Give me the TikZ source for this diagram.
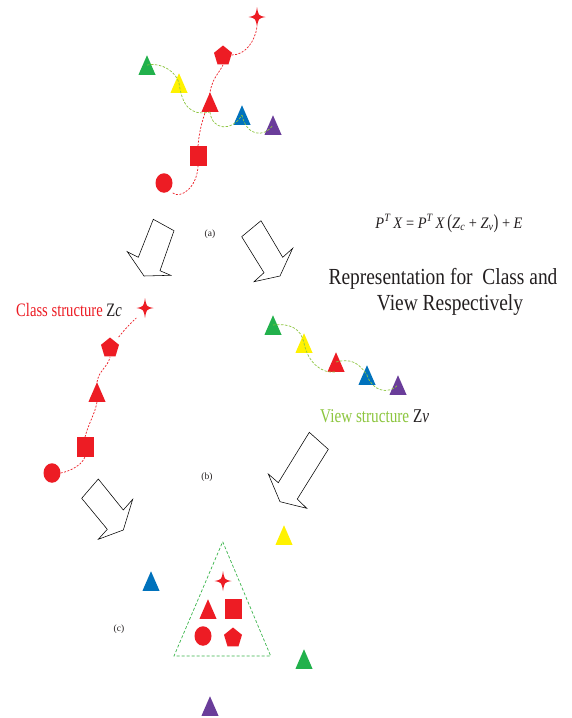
\documentclass[tikz,border=0pt]{standalone}
\usepackage{fontspec}
\setmainfont{Liberation Serif}
\usetikzlibrary{calc}

\definecolor{mkred}{HTML}{ED1C24}
\definecolor{mkgreen}{HTML}{22B14C}
\definecolor{mkyellow}{HTML}{FFF200}
\definecolor{mkblue}{HTML}{0072BC}
\definecolor{mkpurple}{HTML}{6A3D9A}
\definecolor{viewline}{HTML}{8DC63F}
\definecolor{groupline}{HTML}{39B54A}
\definecolor{ink}{HTML}{231F20}

\tikzset{
  mbox/.style={inner sep=0pt, minimum width=17pt, minimum height=19.5pt},
  tri/.pic={\path[pic actions] (-8.5,9.75) -- (8.5,9.75) -- (0,-9.75) -- cycle;},
  sq/.pic={\path[pic actions] (-8.5,-9.75) rectangle (8.5,9.75);},
  blob/.pic={\path[pic actions] (0,0) ellipse [x radius=8.5, y radius=9.75];},
  pent/.pic={\path[pic actions] (0,-9.5) -- (9,-2.2) -- (5.5,9.3) -- (-5.5,9.3) -- (-9,-2.2) -- cycle;},
  spark/.pic={\path[pic actions] (0,-10) .. controls (1.4,-1.4) .. (8.5,0)
      .. controls (1.4,1.4) .. (0,10) .. controls (-1.4,1.4) .. (-8.5,0)
      .. controls (-1.4,-1.4) .. (0,-10) -- cycle;},
  classlink/.style={draw=mkred, line width=0.7pt, dash pattern=on 2pt off 1.5pt},
  viewlink/.style={draw=viewline, line width=0.7pt, dash pattern=on 2.5pt off 1.5pt},
  hollow/.style={draw=black, line width=0.55pt, fill=white, line join=miter},
  caption/.style={font=\fontsize{9.5}{10}\selectfont, text=ink, inner sep=0pt},
}

% a named marker: name, pic type, colour, position
\newcommand\placemk[4]{\node[mbox] (#1) at (#4) {}; \pic[fill=#3] at (#1) {#2};}

\begin{document}
\begin{tikzpicture}[x=1pt, y=-1pt]
\useasboundingbox[fill=white] (0,0) rectangle (572,718);

% ---------------- (a) joint structure ----------------
\placemk{s1}{spark}{mkred}{257,17}
\placemk{p1}{pent}{mkred}{223,55}
\placemk{g1}{tri}{mkgreen}{147,65}
\placemk{y1}{tri}{mkyellow}{179,83}
\placemk{r1}{tri}{mkred}{210,102}
\placemk{b1}{tri}{mkblue}{242,115}
\placemk{v1}{tri}{mkpurple}{273,125}
\placemk{q1}{sq}{mkred}{198,156}
\placemk{c1}{blob}{mkred}{164,183}

\draw[classlink] (c1.south east) .. controls +(8,6) and +(-1,22) .. (q1.south);
\draw[classlink] (q1.north) .. controls +(2,-25) and +(-3,20) .. (r1.north)
                 .. controls +(3,-15) and +(-5,10) .. (p1.south);
\draw[classlink] (p1.east) .. controls +(14,0) and +(-2,14) .. (s1.south);

\draw[viewlink] (g1.center) .. controls +(15,-3) and +(-3,-11) .. (y1.center);
\draw[viewlink] (y1.center) .. controls +(3,22) and +(-20,4.5) .. (r1.south);
\draw[viewlink] (r1.south) .. controls +(2,18.5) and +(-10,17) .. (b1.center);
\draw[viewlink] (b1.center) .. controls +(4,20) and +(-10,14) .. (v1.center);

\node[caption, anchor=base] (capa) at (210,236) {(a)};

% split arrows
\draw[hollow] (153.3,219.3) -- (174,230.7) -- (160,270.7) -- (170.7,275.3)
  -- (144,276) -- (127.3,251.7) -- (138.3,257.3) -- cycle;
\draw[hollow] (241.7,236.7) -- (261,220.7) -- (282.7,257.3) -- (292.7,248.3)
  -- (280,276) -- (254,281.7) -- (264,272.7) -- cycle;

% formula and heading
\node[anchor=base, inner sep=0pt, text=ink] (eq) at (449,228)
  {\fontsize{16}{18}\selectfont\scalebox{0.9}[1]{\textit{P}\textsuperscript{\textit{T}}\,\textit{X} = \textit{P}\textsuperscript{\textit{T}}\,\textit{X}\,\scalebox{1}[1.25]{(}\textit{Z}\textsubscript{\textit{c}} + \textit{Z}\textsubscript{\textit{v}}\scalebox{1}[1.25]{)} + \textit{E}}};
\node[anchor=base, inner sep=0pt, text=ink] (head1) at (443,284)
  {\fontsize{23}{25}\selectfont\scalebox{0.845}[1]{Representation for\ \ Class and}};
\node[anchor=base, inner sep=0pt, text=ink] (head2) at (450,310)
  {\fontsize{23}{25}\selectfont\scalebox{0.845}[1]{View Respectively}};

% ---------------- (b) class structure ----------------
\placemk{s2}{spark}{mkred}{145,308}
\placemk{p2}{pent}{mkred}{110,347}
\placemk{r2}{tri}{mkred}{97,392}
\placemk{q2}{sq}{mkred}{85,447}
\placemk{c2}{blob}{mkred}{52,473}

\draw[classlink] (c2.east) .. controls +(10,-2) and +(-3,8) .. (q2.south);
\draw[classlink] (q2.north) .. controls +(4,-15) and +(-2,12) .. (r2.south);
\draw[classlink] (r2.north) .. controls +(2,-12) and +(-2,10) .. (p2.south);
\draw[classlink] (p2.north east) .. controls +(8,-10) and +(-8,8) .. (s2.south west);

\node[anchor=base west, inner sep=0pt] (zc) at (16,316.5)
  {\fontsize{19}{21}\selectfont\scalebox{0.77}[1]{\textcolor{mkred}{Class structure} \textcolor{ink}{Z\textit{c}}}};

% ---------------- (b) view structure ----------------
\placemk{g2}{tri}{mkgreen}{273,325}
\placemk{y2}{tri}{mkyellow}{304,343}
\placemk{r3}{tri}{mkred}{336,362}
\placemk{b2}{tri}{mkblue}{367,375}
\placemk{v2}{tri}{mkpurple}{398,385}

\draw[viewlink] (g2.center) .. controls +(18,-2) and +(-3,-14) .. (y2.center);
\draw[viewlink] (y2.center) .. controls +(4,20) and +(-14,2) .. (r3.south);
\draw[viewlink] (r3.center) .. controls +(15,-4) and +(-8,-12) .. (b2.center);
\draw[viewlink] (b2.center) .. controls +(5,16) and +(-10,10) .. (v2.center);

\node[anchor=base west, inner sep=0pt] (zv) at (320,422)
  {\fontsize{19.5}{21}\selectfont\scalebox{0.78}[1]{\textcolor{viewline}{View structure} \textcolor{ink}{Z\textit{v}}}};

\node[caption, anchor=base] (capb) at (207,479) {(b)};

% merge arrows
\draw[hollow] (98.3,479) -- (81.7,498.3) -- (107.3,529.3) -- (98.3,539.3)
  -- (123.3,530) -- (132.7,499.3) -- (123.3,510) -- cycle;
\draw[hollow] (309.3,432.3) -- (328.3,449.3) -- (297.3,499) -- (306.7,508.3)
  -- (280,501.7) -- (268.3,474) -- (278.3,482.7) -- cycle;

% ---------------- (c) result ----------------
\coordinate (gtop) at (222.7,541.7);
\coordinate (gleft) at (174,656);
\coordinate (gright) at (270.7,656);
\draw[draw=groupline, line width=0.7pt, dash pattern=on 3pt off 2pt] (gtop) -- (gright) -- (gleft) -- cycle;

\placemk{s3}{spark}{mkred}{223,581}
\placemk{r4}{tri}{mkred}{208,609}
\placemk{q3}{sq}{mkred}{233,609}
\placemk{c3}{blob}{mkred}{203,636}
\placemk{p3}{pent}{mkred}{233,637}

\placemk{b3}{tri}{mkblue}{151,581}
\placemk{y3}{tri}{mkyellow}{284,535}
\placemk{g3}{tri}{mkgreen}{304,659}
\placemk{v3}{tri}{mkpurple}{210,706}

\node[caption, anchor=base] (capc) at (119,631) {(c)};
\end{tikzpicture}
\end{document}
